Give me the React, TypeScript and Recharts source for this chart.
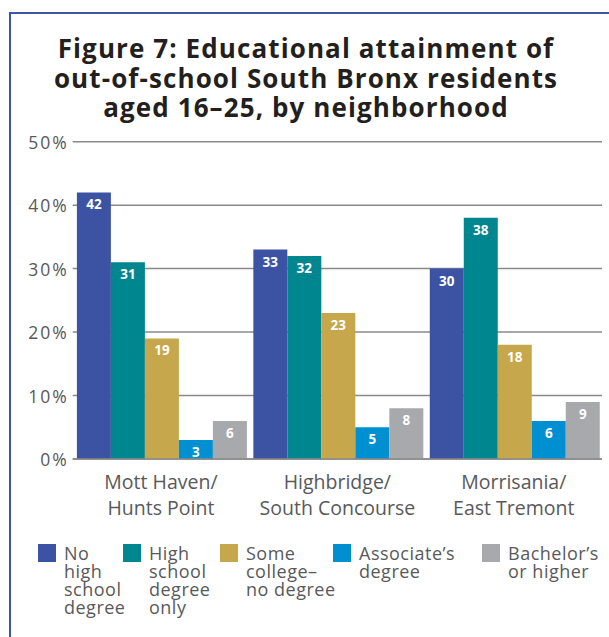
import { BarChart, Bar, XAxis, YAxis, CartesianGrid, LabelList } from 'recharts';

const categories = [
  ['Mott Haven/', 'Hunts Point'],
  ['Highbridge/', 'South Concourse'],
  ['Morrisania/', 'East Tremont'],
];

const noHighSchool = [42, 33, 30];
const highSchoolOnly = [31, 32, 38];
const someCollege = [19, 23, 18];
const associates = [3, 5, 6];
const bachelors = [6, 8, 9];

const yTicks = [0, 10, 20, 30, 40, 50];

const series = [
  { key: 'noHs', values: noHighSchool, color: '#3c53a3', label: ['No', 'high', 'school', 'degree'] },
  { key: 'hsOnly', values: highSchoolOnly, color: '#00868e', label: ['High', 'school', 'degree', 'only'] },
  { key: 'some', values: someCollege, color: '#c6a74b', label: ['Some', 'college–', 'no degree'] },
  { key: 'assoc', values: associates, color: '#008fd0', label: ['Associate’s', 'degree'] },
  { key: 'bach', values: bachelors, color: '#a8a9ac', label: ['Bachelor’s', 'or higher'] },
];

const legendLeft = [38, 123, 220, 333, 482];

const data = categories.map((lines, i) => {
  const row: Record<string, any> = { name: lines.join(' '), lines };
  series.forEach((s) => {
    row[s.key] = s.values[i];
  });
  return row;
});

const FONT = '"Open Sans", sans-serif';
const GREY = '#58595b';

function XTick({ x, y, payload }: any) {
  const lines = categories[payload.index] ?? [payload.value];
  return (
    <text x={x} textAnchor="middle" fontFamily={FONT} fontSize={19.5} fill={GREY}>
      {lines.map((l: string, i: number) => (
        <tspan key={i} x={x} y={y + 30 + i * 26}>
          {l}
        </tspan>
      ))}
    </text>
  );
}

function YTick({ x, y, payload }: any) {
  return (
    <text
      x={x}
      y={y}
      textAnchor="end"
      dominantBaseline="central"
      fontFamily={FONT}
      fontSize={17.5}
      letterSpacing={2}
      fill={GREY}
    >
      {payload.value}%
    </text>
  );
}

function ValueLabel({ x, y, width, value }: any) {
  return (
    <text
      x={x + width / 2}
      y={y + 12}
      textAnchor="middle"
      dominantBaseline="central"
      fontFamily={FONT}
      fontWeight={700}
      fontSize={13.5}
      fill="#ffffff"
    >
      {value}
    </text>
  );
}

export default function App() {
  return (
    <div
      style={{
        position: 'absolute',
        left: 0,
        top: 0,
        width: 609,
        height: 637,
        overflow: 'hidden',
        background: '#fff',
      }}
    >
      <div
        style={{
          position: 'absolute',
          left: 9,
          top: 12,
          width: 700,
          height: 700,
          border: '2px solid #3f55a5',
        }}
      />
      <div
        style={{
          position: 'absolute',
          left: 10,
          width: 592,
          top: 34,
          textAlign: 'center',
          fontFamily: FONT,
          fontWeight: 700,
          fontSize: 26,
          letterSpacing: 1.1,
          lineHeight: '29.5px',
          color: '#231f20',
        }}
      >
        Figure 7: Educational attainment of
        <br />
        out-of-school South Bronx residents
        <br />
        aged 16–25, by neighborhood
      </div>
      <div style={{ position: 'absolute', left: 0, top: 0 }}>
        <BarChart
          width={609}
          height={637}
          data={data}
          margin={{ top: 141.7, right: 7, bottom: 118, left: 0 }}
          barCategoryGap={4.2}
          barGap={0}
        >
          <CartesianGrid vertical={false} stroke="#8a8a8a" strokeWidth={1.5} />
          <XAxis
            dataKey="name"
            height={60}
            axisLine={{ stroke: '#8a8a8a', strokeWidth: 1.5 }}
            tickLine={false}
            tickSize={0}
            tickMargin={0}
            tick={<XTick />}
            interval={0}
          />
          <YAxis
            width={72.7}
            domain={[0, 50]}
            ticks={yTicks}
            axisLine={false}
            tickLine={false}
            tickSize={0}
            tickMargin={4}
            tick={<YTick />}
          />
          {series.map((s) => (
            <Bar key={s.key} dataKey={s.key} fill={s.color} isAnimationActive={false}>
              <LabelList dataKey={s.key} content={<ValueLabel />} />
            </Bar>
          ))}
        </BarChart>
      </div>
      {series.map((s, i) => (
        <div
          key={s.key}
          style={{ position: 'absolute', left: legendLeft[i], top: 544, display: 'flex' }}
        >
          <div style={{ width: 18, height: 18, background: s.color, flex: 'none' }} />
          <div
            style={{
              marginLeft: 8,
              marginTop: 0,
              fontFamily: FONT,
              fontSize: 18,
              letterSpacing: 0.5,
              lineHeight: '18px',
              color: GREY,
            }}
          >
            {s.label.map((l, j) => (
              <div key={j}>{l}</div>
            ))}
          </div>
        </div>
      ))}
    </div>
  );
}
